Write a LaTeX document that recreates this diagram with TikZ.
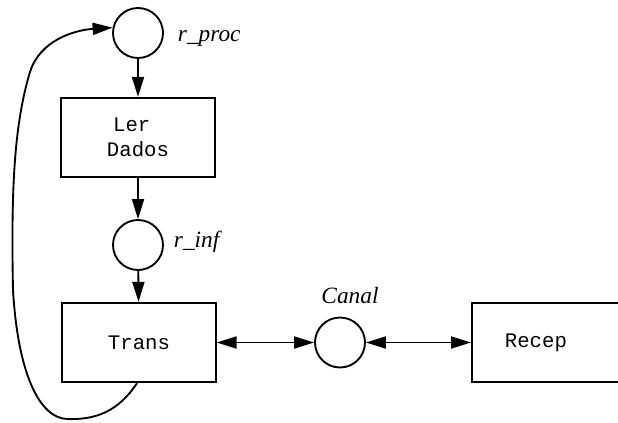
\documentclass[tikz,border=0pt]{standalone}
\usepackage{fontspec}
\setmainfont{Liberation Serif}
\setmonofont{Liberation Mono}
\usetikzlibrary{arrows.meta}
\begin{document}
\begin{tikzpicture}[x=0.75pt,y=-0.75pt,
  line width=1.4pt,
  arr/.style={-{Triangle[length=15pt,width=9pt]}},
  darr/.style={{Triangle[length=15pt,width=9pt]}-{Triangle[length=15pt,width=9pt]}},
  place/.style={draw,circle,minimum size=37.5pt,inner sep=0pt},
  stepbox/.style={draw,rectangle,minimum width=115pt,minimum height=59.5pt,inner sep=0pt,
    font=\ttfamily\fontsize{15.5}{18.75}\selectfont,align=center},
  lab/.style={font=\itshape\fontsize{17.5}{20}\selectfont,inner sep=0pt}
]
\useasboundingbox (0,0) rectangle (618,422);
\clip (0,0) rectangle (618,422);

\node[place] (rproc) at (138,33) {};
\node[stepbox] (ler) at (138,137.5) {Ler\hphantom{x}\\Dados};
\node[place] (rinf) at (138,245) {};
\node[stepbox] (trans) at (139,342.5) {Trans};
\node[place] (canal) at (340,342.5) {};
\node[stepbox,anchor=west,minimum width=0pt,text width=80pt,align=left,
      inner xsep=24.75pt] (recep) at (471,342.5) {Recep};

\node[lab,anchor=base west] (lproc) at (177,41) {r\_proc};
\node[lab,anchor=base west] (linf) at (173,247) {r\_inf};
\node[lab,anchor=base] (lcanal) at (350,303) {Canal};

\draw[arr] (rproc) -- (ler);
\draw[arr] (ler) -- (rinf);
\draw[arr] (rinf) -- (trans);
\draw[darr] (trans) -- (canal);
\draw[darr] (canal) -- (recep);

\coordinate (lb) at (67,419);
\coordinate (ll) at (13,290);
\coordinate (lt) at (30,72);
\draw[arr] ([xshift=-1.5pt]trans.south) .. controls (118,412) and (95,420) .. (lb)
  .. controls (40,418) and (18,375) .. (ll)
  .. controls (11,190) and (14,125) .. (lt)
  .. controls (40,40) and (75,30) .. (rproc.168);
\end{tikzpicture}
\end{document}
